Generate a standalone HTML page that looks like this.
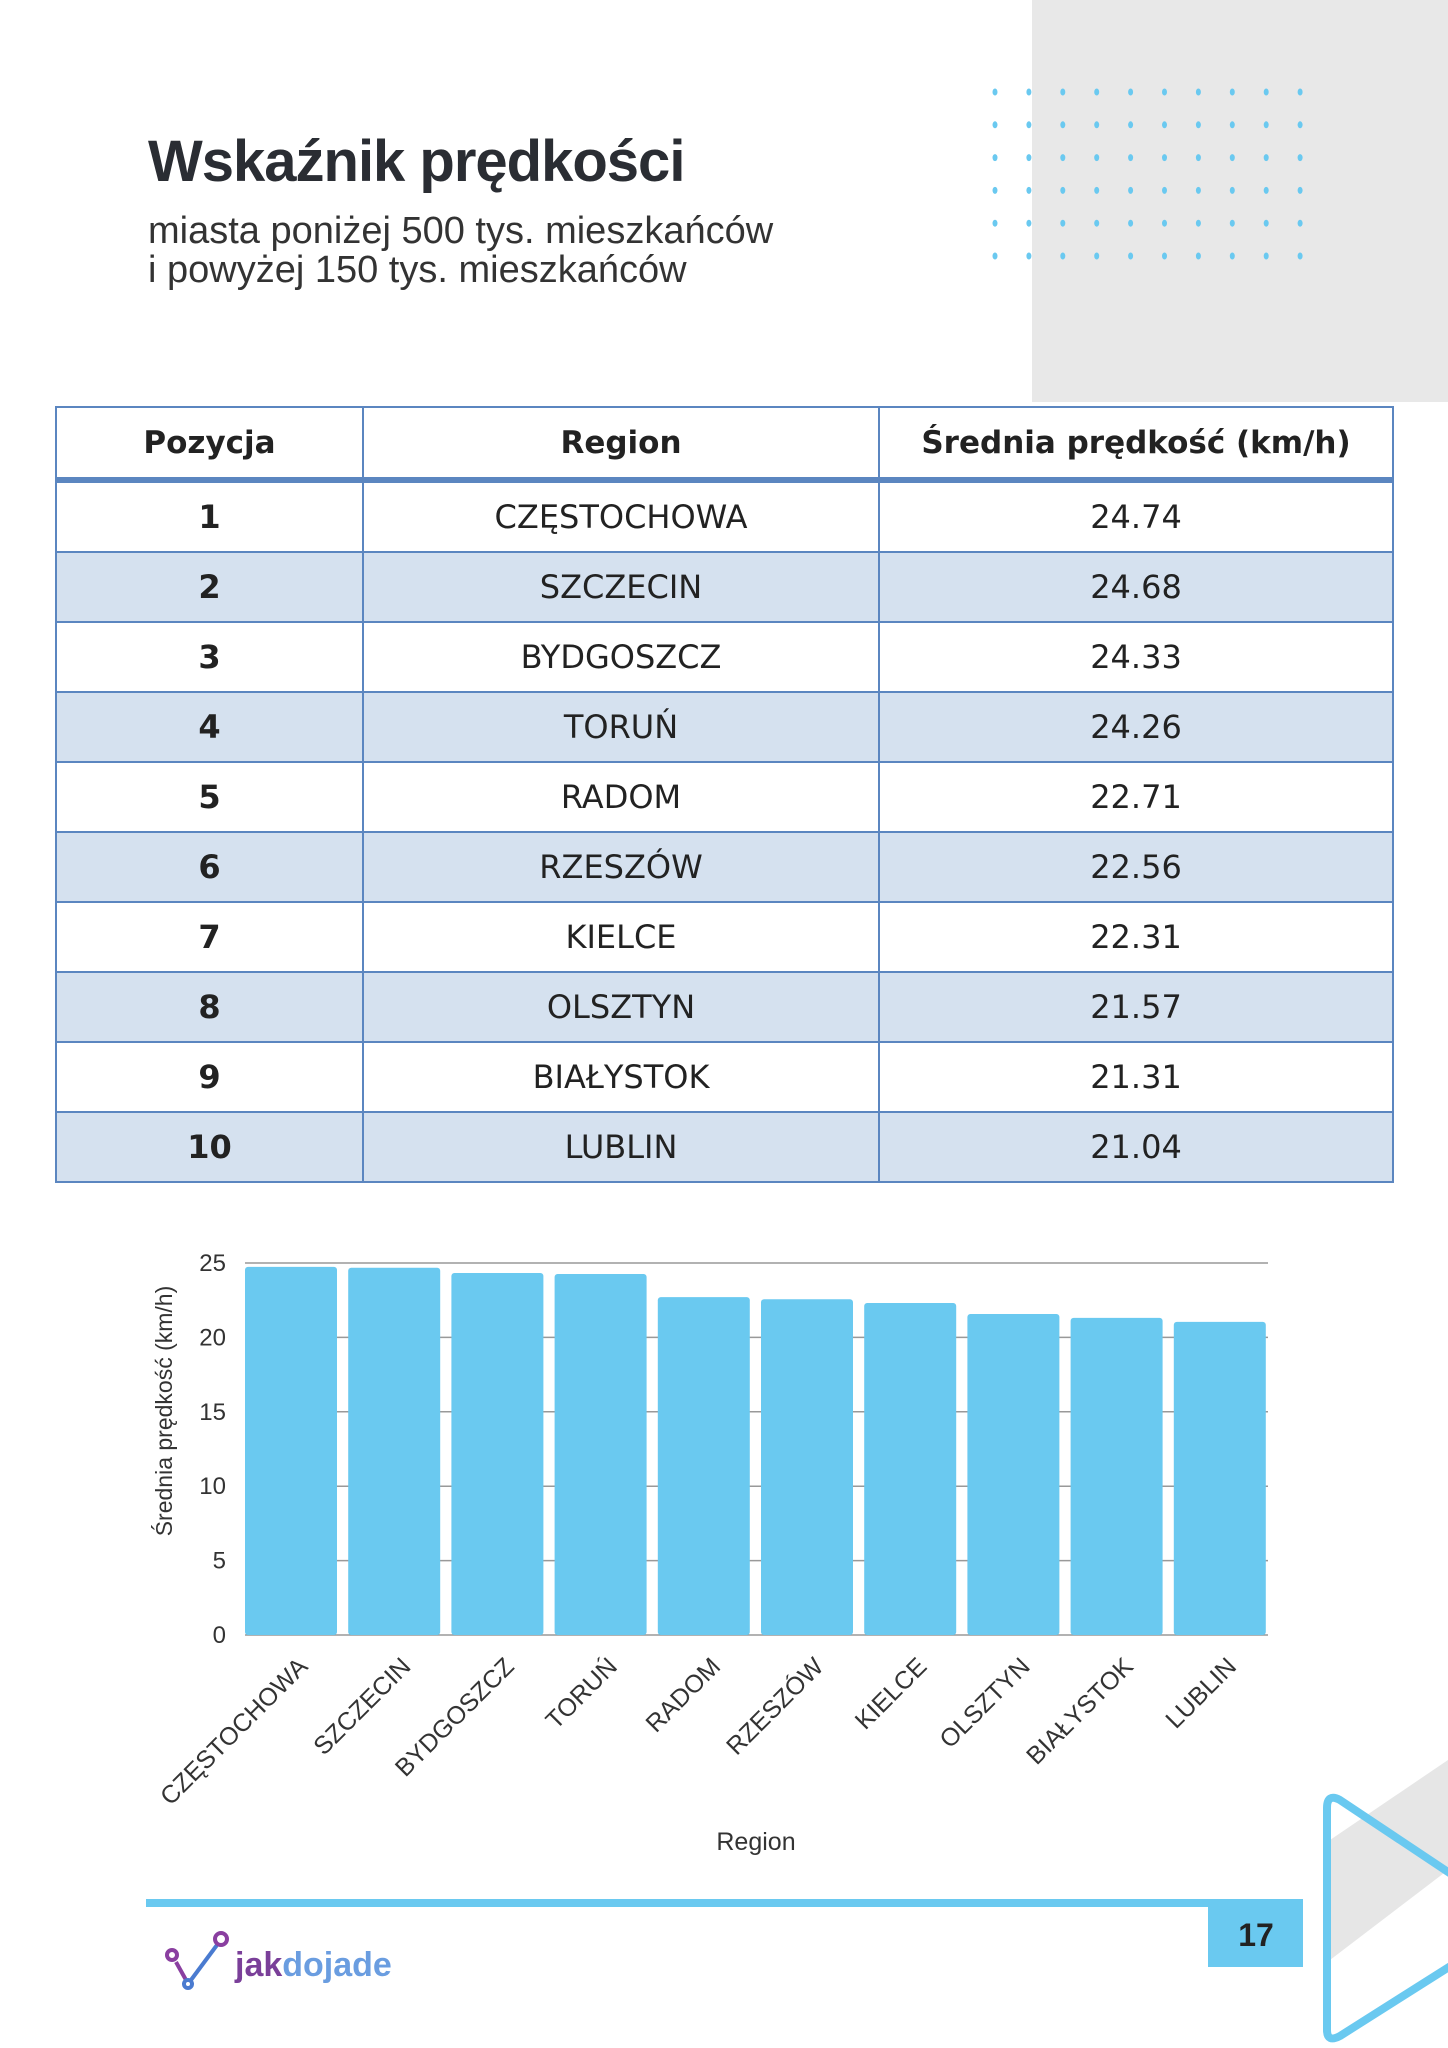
<!DOCTYPE html>
<html><head><meta charset="utf-8"><style>
body{margin:0;width:1448px;height:2048px;position:relative;background:#fff;overflow:hidden;font-family:"Liberation Sans",sans-serif;}
.abs{position:absolute}
table{position:absolute;left:55px;top:406px;width:1339px;border-collapse:collapse;font-family:"DejaVu Sans","Liberation Sans",sans-serif;}
td,th{border:2.5px solid #5b86c0;text-align:center;color:#222;padding:0}
th{height:69px;font-size:31px;font-weight:bold;border-bottom:6px solid #5b86c0}
td{height:68px;font-size:32px}
td:first-child{font-weight:bold}
tr:nth-child(odd) td{background:#d5e1ef}
</style></head><body>
<div class="abs" style="left:1032px;top:0;width:416px;height:402px;background:#e8e8e8"></div>
<svg class="abs" style="left:0;top:0" width="1448" height="2048">
<g fill="#6ac9f0" id="dots"></g>
<polygon points="1448,1760 1448,1870 1330,1960 1330,1840" fill="#e6e6e6"/>
<path d="M1340,1800 Q1327,1793 1327,1808 L1327,2030 Q1327,2043 1340,2036 L1460,1960 L1460,1880 Z" fill="none" stroke="#6ac9f0" stroke-width="8"/>
</svg>
<div class="abs" style="left:148px;top:128px;font-size:58px;font-weight:bold;color:#2a2d33;letter-spacing:-1px">Wskaźnik prędkości</div>
<div class="abs" style="left:148px;top:212px;font-size:38px;color:#333;line-height:39px">miasta poniżej 500 tys. mieszkańców<br>i powyżej 150 tys. mieszkańców</div>
<table>
<tr><th style="width:305px">Pozycja</th><th style="width:514px">Region</th><th>Średnia prędkość (km/h)</th></tr>
<tr><td>1</td><td>CZĘSTOCHOWA</td><td>24.74</td></tr>
<tr><td>2</td><td>SZCZECIN</td><td>24.68</td></tr>
<tr><td>3</td><td>BYDGOSZCZ</td><td>24.33</td></tr>
<tr><td>4</td><td>TORUŃ</td><td>24.26</td></tr>
<tr><td>5</td><td>RADOM</td><td>22.71</td></tr>
<tr><td>6</td><td>RZESZÓW</td><td>22.56</td></tr>
<tr><td>7</td><td>KIELCE</td><td>22.31</td></tr>
<tr><td>8</td><td>OLSZTYN</td><td>21.57</td></tr>
<tr><td>9</td><td>BIAŁYSTOK</td><td>21.31</td></tr>
<tr><td>10</td><td>LUBLIN</td><td>21.04</td></tr>
</table>
<svg class="abs" style="left:0;top:0" width="1448" height="2048" id="ch">
<g stroke="#999" stroke-width="1.5" id="grid"></g>
<g fill="#6ac9f0" id="bars"></g>
<g font-size="24" fill="#333" text-anchor="end" id="yt"></g>
<g font-size="25" fill="#333" id="xt"></g>
<text x="172" y="1411" font-size="23" fill="#333" text-anchor="middle" transform="rotate(-90 172 1411)">Średnia prędkość (km/h)</text>
<text x="756" y="1850" font-size="25" fill="#333" text-anchor="middle">Region</text>
<rect x="146" y="1899" width="1157" height="8" fill="#6ac9f0"/>
<rect x="1208" y="1899" width="95" height="68" fill="#6ac9f0"/>
<text x="1256" y="1946" font-size="32" font-weight="bold" fill="#222" text-anchor="middle">17</text>
<g stroke="#8a3fa0" stroke-width="4" fill="none"><circle cx="172" cy="1955" r="5"/><line x1="176" y1="1962" x2="186" y2="1980"/><circle cx="188" cy="1984" r="4" stroke="#4a7bd0"/><line x1="191" y1="1980" x2="217" y2="1945" stroke="#4a7bd0"/><circle cx="221" cy="1939" r="6"/></g>
<text x="235" y="1976" font-size="34" font-weight="bold"><tspan fill="#7a3f99">jak</tspan><tspan fill="#6a9de0">dojade</tspan></text>
</svg>
<script>
var d=document.getElementById('dots'),s='';
for(var r=0;r<6;r++)for(var c=0;c<10;c++)s+='<ellipse cx="'+(995+c*33.9)+'" cy="'+(92+r*32.8)+'" rx="2.5" ry="3.5"/>';
d.innerHTML=s;
var v=[24.74,24.68,24.33,24.26,22.71,22.56,22.31,21.57,21.31,21.04],n=['CZĘSTOCHOWA','SZCZECIN','BYDGOSZCZ','TORUŃ','RADOM','RZESZÓW','KIELCE','OLSZTYN','BIAŁYSTOK','LUBLIN'];
var y0=1635,y25=1263,k=(y0-y25)/25,g='',b='',yt='',xt='';
for(var i=0;i<=5;i++){var y=y0-i*5*k;g+='<line x1="245" x2="1268" y1="'+y+'" y2="'+y+'"/>';yt+='<text x="226" y="'+(y+8)+'">'+(i*5)+'</text>';}
for(var i=0;i<10;i++){var x=245+i*103.2,h=v[i]*k;b+='<rect x="'+x+'" y="'+(y0-h)+'" width="92" height="'+h+'" rx="3"/>';var cx=x+64,ty=1668;xt+='<text x="'+cx+'" y="'+ty+'" text-anchor="end" transform="rotate(-45 '+cx+' '+ty+')">'+n[i]+'</text>';}
document.getElementById('grid').innerHTML=g;document.getElementById('bars').innerHTML=b;document.getElementById('yt').innerHTML=yt;document.getElementById('xt').innerHTML=xt;
</script>
</body></html>
